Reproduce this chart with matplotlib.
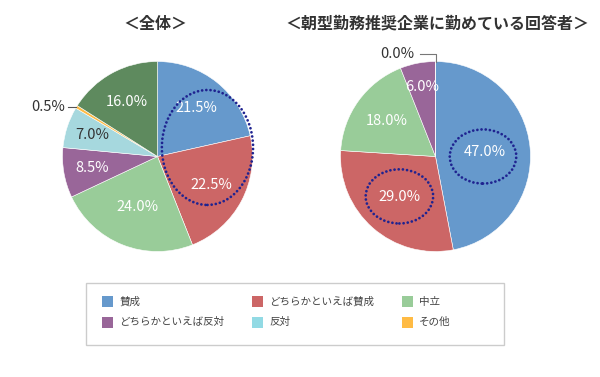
import matplotlib
matplotlib.use("Agg")
import matplotlib.pyplot as plt
from matplotlib.patches import Ellipse, Rectangle
import numpy as np

plt.rcParams['font.family'] = ['Noto Sans CJK JP', 'DejaVu Sans']

# ---------------- data ----------------
categories = ["賛成", "どちらかといえば賛成", "中立", "どちらかといえば反対", "反対", "その他"]
left_title = "＜全体＞"
right_title = "＜朝型勤務推奨企業に勤めている回答者＞"
left_labels = ["賛成", "どちらかといえば賛成", "中立", "どちらかといえば反対", "反対", "その他", "無回答"]
left_values = [21.5, 22.5, 24.0, 8.5, 7.0, 0.5, 16.0]
right_labels = ["賛成", "どちらかといえば賛成", "中立", "どちらかといえば反対", "反対", "その他"]
right_values = [47.0, 29.0, 18.0, 6.0, 0.0, 0.0]

# ---------------- style ----------------
color_map = {
    "賛成": "#6699CC",
    "どちらかといえば賛成": "#CC6666",
    "中立": "#99CC99",
    "どちらかといえば反対": "#996699",
    "反対": "#A6D8DE",
    "その他": "#FFBB44",
    "無回答": "#5E8A5E",
}
dark_text = {"反対"}
# radial position of the inside labels (fraction of radius)
left_label_r = [0.65, 0.64, 0.57, 0.70, 0.72, None, 0.66]
right_label_r = [0.52, 0.57, 0.63, 0.75, None, None]

W, H = 600, 377
fig = plt.figure(figsize=(W / 100, H / 100), dpi=100)

def px_axes(cx, cy, r):
    return fig.add_axes([(cx - r) / W, (H - cy - r) / H, 2 * r / W, 2 * r / H])

def draw_pie(ax, labels, values, label_r):
    cols = [color_map[l] for l in labels]
    wedges, _ = ax.pie(values, colors=cols, startangle=90, counterclock=False,
                       radius=1.0, wedgeprops=dict(edgecolor='white', linewidth=0.4))
    ax.set_xlim(-1, 1)
    ax.set_ylim(-1, 1)
    ax.set_aspect('equal')
    ax.axis('off')
    for w, lab, v, rr in zip(wedges, labels, values, label_r):
        if rr is None:
            continue
        th = np.deg2rad((w.theta1 + w.theta2) / 2)
        c = '#333333' if lab in dark_text else 'white'
        ax.text(rr * np.cos(th), rr * np.sin(th), f"{v:.1f}%", ha='center', va='center',
                color=c, fontsize=10.5, zorder=5)
    return wedges

dot_color = "#1F2390"
def dotted_ellipse(ax, xy, w, h):
    e = Ellipse(xy, w, h, fill=False, edgecolor=dot_color, linewidth=2.0,
                linestyle=(0, (0.01, 1.5)), zorder=6, clip_on=False)
    e.set_capstyle('round')
    ax.add_patch(e)

# left pie
axL = px_axes(157.5, 156.5, 95)
wl = draw_pie(axL, left_labels, left_values, left_label_r)
# small slice (その他 0.5%) with leader line
w = wl[5]
th = np.deg2rad((w.theta1 + w.theta2) / 2)
ex, ey = np.cos(th), np.sin(th)
axL.plot([ex, ex - 8 / 95], [ey, ey], color='#555555', lw=0.8, clip_on=False)
axL.text(ex - 11 / 95, ey, f"{left_values[5]:.1f}%", ha='right', va='center',
         color='#333333', fontsize=10.5, clip_on=False)
dotted_ellipse(axL, (0.526, 0.095), 0.96, 1.21)

# right pie
axR = px_axes(435.5, 156.5, 95)
wr = draw_pie(axR, right_labels, right_values, right_label_r)
# zero slice label with leader line at top
w = wr[4]
th = np.deg2rad(w.theta1)
ex, ey = np.cos(th), np.sin(th)
axR.plot([ex, ex, ex - 16 / 95], [ey, ey + 7 / 95, ey + 7 / 95], color='#777777', lw=0.8,
         clip_on=False)
axR.text(ex - 21 / 95, ey + 7 / 95, f"{right_values[4]:.1f}%", ha='right', va='center',
         color='#333333', fontsize=10.5, clip_on=False)
dotted_ellipse(axR, (0.50, 0.0), 0.70, 0.57)
dotted_ellipse(axR, (-0.38, -0.42), 0.71, 0.57)

# titles
fig.text(155 / W, 1 - 24 / H, left_title, ha='center', va='center', fontsize=11.5,
         fontweight='bold', color='#333333')
fig.text(437 / W, 1 - 24 / H, right_title, ha='center', va='center', fontsize=11.5,
         fontweight='bold', color='#333333')

# legend box
lax = fig.add_axes([0, 0, 1, 1], facecolor='none')
lax.set_xlim(0, W)
lax.set_ylim(H, 0)
lax.axis('off')
lax.add_patch(Rectangle((85.5, 282.5), 418, 62, fill=False, edgecolor='#CCCCCC', lw=1.0))
col_x = [102, 252, 402]
row_y = [301.5, 322]
for i, cat in enumerate(categories):
    r, c = divmod(i, 3)
    x, y = col_x[c], row_y[r]
    lax.add_patch(Rectangle((x, y - 5.5), 11, 11, facecolor=color_map[cat] if cat != "反対" else "#92DAE4",
                            edgecolor='none'))
    lax.text(x + 17, y, cat, ha='left', va='center', fontsize=7.6, color='#444444')

fig.savefig("out.png", dpi=100)
